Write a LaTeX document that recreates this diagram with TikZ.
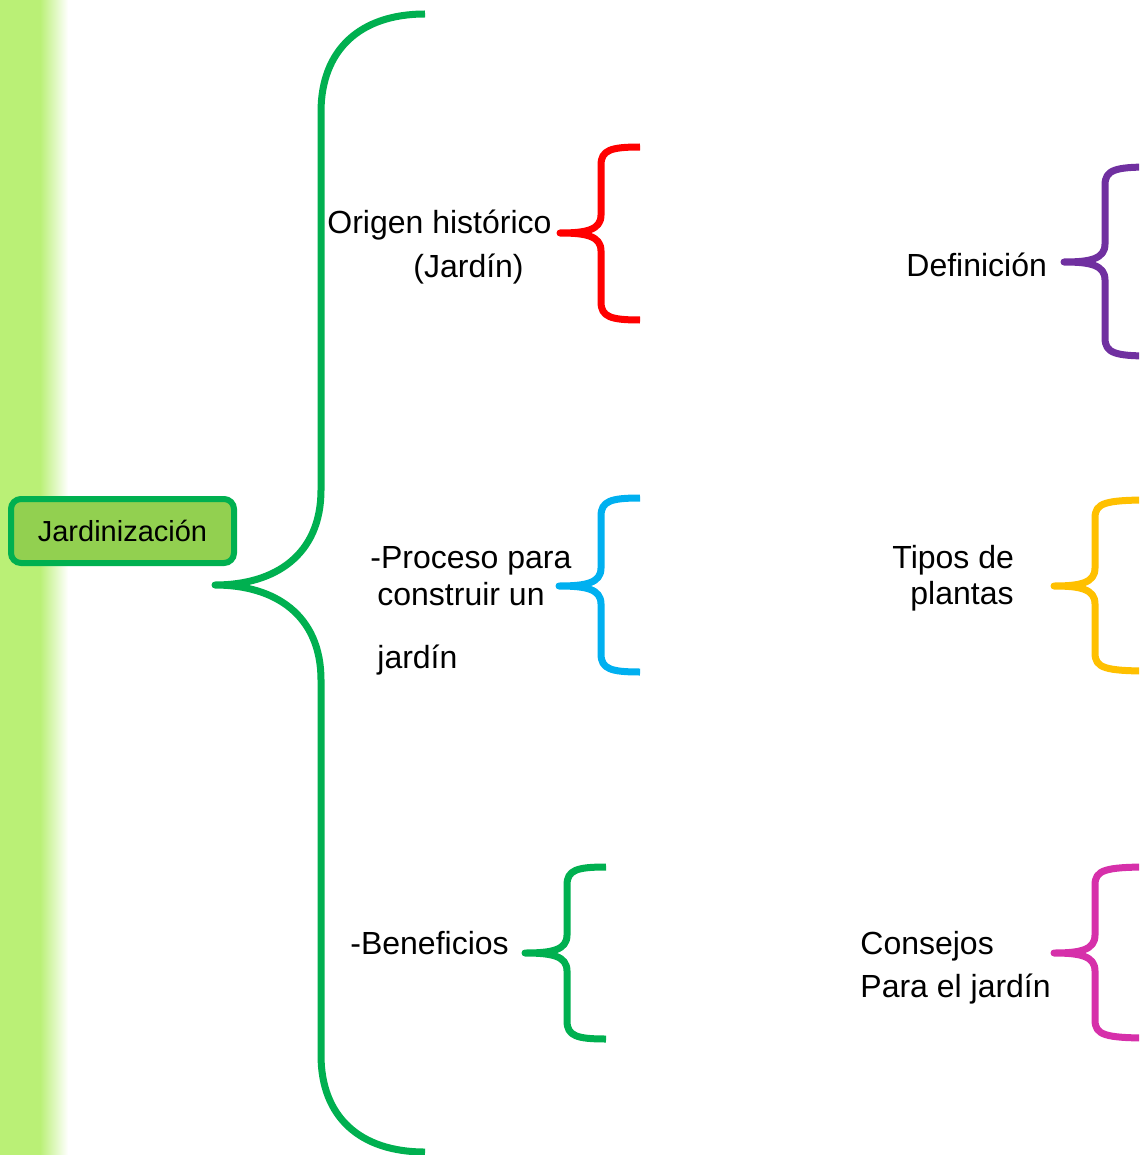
\documentclass[tikz,border=0pt]{standalone}
\usepackage{fontspec}
\setmainfont{Liberation Sans}
\definecolor{leafgreen}{RGB}{0,176,80}
\definecolor{boxgreen}{RGB}{146,208,80}
\definecolor{stripgreen}{RGB}{186,240,118}
\definecolor{braceblue}{RGB}{0,176,240}
\definecolor{bracepurple}{RGB}{112,48,160}
\definecolor{braceyellow}{RGB}{255,192,0}
\definecolor{bracepink}{RGB}{214,48,170}
\begin{document}
\begin{tikzpicture}[
            x=0.5pt, y=-0.5pt,
            curly/.style = {line width=3.5pt, line join=round},
            item/.style = {inner sep=0pt, anchor=base west, font=\fontsize{16}{19}\selectfont},
        ]
            \clip (0,0) rectangle (1139,1155);

            % green strip on the left
            \fill[stripgreen] (0,0) rectangle (40,1155);
            \shade[left color=stripgreen, right color=white] (40,0) rectangle (68,1155);

            \node[draw=leafgreen, fill=boxgreen, line width=3pt, rounded corners=5pt,
                  minimum width=111.5pt, minimum height=32pt, inner sep=0pt,
                  font=\fontsize{14.5}{17}\selectfont] (jardinizacion) at (122.5,531) {Jardinización};

            % main brace
            \draw[curly, leafgreen] (425,14) .. controls (360,14) and (321,50) .. (321,112) -- (321,490)
                .. controls (321,555) and (275,585) .. (215,585)
                .. controls (275,585) and (321,615) .. (321,680) -- (321,1055)
                .. controls (321,1117) and (360,1152) .. (425,1152);

            % left column
            \node[item] (origen) at (327,234) {Origen histórico};
            \node[item] (jardin) at (413,277) {(Jardín)};
            \node[item] (proceso) at (370,568) {-Proceso para};
            \node[item] (construir) at (377,605) {construir un};
            \node[item] (jardinb) at (377,668) {jardín};
            \node[item] (beneficios) at (350,954) {-Beneficios};

            \draw[curly, red] (640,147) .. controls (611,147) and (601,150) .. (601,165) -- (601,215)
                .. controls (601,230) and (586,233) .. (560,233)
                .. controls (586,233) and (601,236) .. (601,251) -- (601,302)
                .. controls (601,317) and (611,320) .. (640,320);
            \draw[curly, braceblue] (640,498) .. controls (611,498) and (601,501) .. (601,516) -- (601,568)
                .. controls (601,583) and (586,586) .. (559,586)
                .. controls (586,586) and (601,589) .. (601,604) -- (601,654)
                .. controls (601,669) and (611,672) .. (640,672);
            \draw[curly, leafgreen] (606,867) .. controls (577,867) and (567,870) .. (567,885) -- (567,935)
                .. controls (567,950) and (552,953) .. (525,953)
                .. controls (552,953) and (567,956) .. (567,971) -- (567,1021)
                .. controls (567,1036) and (577,1039) .. (606,1039);

            % right column
            \node[item] (definicion) at (906,276) {Definición};
            \node[item] (tipos) at (892,568) {Tipos de};
            \node[item] (plantas) at (910,604) {plantas};
            \node[item] (consejos) at (860,954) {Consejos};
            \node[item] (para) at (860,997) {Para el jardín};

            \draw[curly, bracepurple] (1150,167) .. controls (1115,167) and (1105,170) .. (1105,185) -- (1105,244)
                .. controls (1105,259) and (1090,262) .. (1064,262)
                .. controls (1090,262) and (1105,265) .. (1105,280) -- (1105,338)
                .. controls (1105,353) and (1115,356) .. (1150,356);
            \draw[curly, braceyellow] (1150,500) .. controls (1105,500) and (1095,503) .. (1095,518) -- (1095,568)
                .. controls (1095,583) and (1080,586) .. (1054,586)
                .. controls (1080,586) and (1095,589) .. (1095,604) -- (1095,653)
                .. controls (1095,668) and (1105,671) .. (1150,671);
            \draw[curly, bracepink] (1150,867) .. controls (1105,867) and (1095,870) .. (1095,885) -- (1095,935)
                .. controls (1095,950) and (1080,953) .. (1054,953)
                .. controls (1080,953) and (1095,956) .. (1095,971) -- (1095,1020)
                .. controls (1095,1035) and (1105,1038) .. (1150,1038);
        \end{tikzpicture}
\end{document}
